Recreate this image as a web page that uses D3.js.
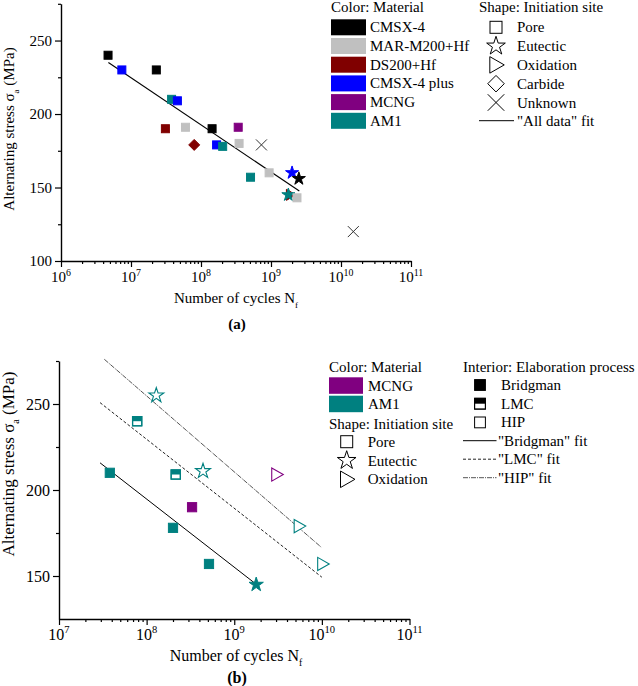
<!DOCTYPE html>
<html><head><meta charset="utf-8">
<script src="https://cdn.jsdelivr.net/npm/d3@7/dist/d3.min.js"></script>
<style>body{margin:0;background:#fff}svg{display:block}text{font-family:"Liberation Serif","Times New Roman",serif;fill:#000}</style>
</head><body>
<svg id="c" width="638" height="686"></svg>
<script>
// ---------- Data: chart (a) ----------
const materials = ["CMSX-4","MAR-M200+Hf","DS200+Hf","CMSX-4 plus","MCNG","AM1"];
const materialColors = ["#000000","#c0c0c0","#800000","#0000ff","#800080","#008080"];
const sites = ["Pore","Eutectic","Oxidation","Carbide","Unknown"];
const aCycles   = [4.7e6,7.4e6,2.3e7,3.8e7,4.6e7,3.1e7,6.0e7,8.0e7,1.44e8,1.67e8,2.04e8,3.4e8,3.5e8,7.3e8,5.1e8,9.4e8,2.0e9,2.5e9,1.9e9,1.77e9,2.35e9,1.5e10];
const aStress   = [240,230,230,210,209,190,191,179,190,179,178,191,180,179,157,160,160,156,145,145,143,120];
const aMaterial = ["CMSX-4","CMSX-4 plus","CMSX-4","AM1","CMSX-4 plus","DS200+Hf","MAR-M200+Hf","DS200+Hf","CMSX-4","CMSX-4 plus","AM1","MCNG","MAR-M200+Hf","CMSX-4","AM1","MAR-M200+Hf","CMSX-4 plus","CMSX-4","DS200+Hf","AM1","MAR-M200+Hf","CMSX-4"];
const aSite     = ["Pore","Pore","Pore","Pore","Pore","Pore","Pore","Carbide","Pore","Pore","Pore","Pore","Pore","Unknown","Pore","Pore","Eutectic","Eutectic","Oxidation","Eutectic","Pore","Unknown"];
const aFitCycles = [4.75e6, 2.54e9];
const aFitStress = [235.1, 147.6];
const aYTicks = [100,150,200,250];
const aXTickExp = [6,7,8,9,10,11];

// ---------- Data: chart (b) ----------
const bMaterials = ["MCNG","AM1"];
const bColors = ["#800080","#008080"];
const processes = ["Bridgman","LMC","HIP"];
const bCycles   = [1.29e8,7.8e7,2.15e8,4.4e8,3.05e9,3.8e7,3.3e8,2.0e8,5.5e9,5.15e8,1.78e9,1.02e10];
const bStress   = [255,240,209,211,209,210,190,178,179,157,145,157];
const bMaterial = ["AM1","AM1","AM1","AM1","MCNG","AM1","MCNG","AM1","AM1","AM1","AM1","AM1"];
const bSite     = ["Eutectic","Pore","Pore","Eutectic","Oxidation","Pore","Pore","Pore","Oxidation","Pore","Eutectic","Oxidation"];
const bProcess  = ["HIP","LMC","LMC","HIP","HIP","Bridgman","Bridgman","Bridgman","HIP","Bridgman","Bridgman","HIP"];
const bFitNames  = ["Bridgman","LMC","HIP"];
const bFitCycles = [[2.94e7,1.78e9],[2.94e7,1.0e10],[3.29e7,9.8e9]];
const bFitStress = [[215.8,145.2],[250.8,149.3],[276.0,166.8]];
const bYTicks = [150,200,250];
const bXTickExp = [7,8,9,10,11];

// ---------- helpers ----------
const svg = d3.select("#c");
const matColor = d3.scaleOrdinal(materials, materialColors);
const bMatColor = d3.scaleOrdinal(bMaterials, bColors);
const starPath = s => d3.symbol(d3.symbolStar, s)();
function triPath(r){ return `M${-r*0.75},${-r}L${r},0L${-r*0.75},${r}Z`; }
function xPath(r){ return `M${-r},${-r}L${r},${r}M${-r},${r}L${r},${-r}`; }
function diamondPath(r){ return `M0,${-r}L${r},0L0,${r}L${-r},0Z`; }

function drawMarker(g, site, x, y, opt){
  const k = opt.scale || 1;
  const sw = opt.sw || 1;
  const gg = g.append("g").attr("transform", `translate(${x},${y})`);
  if (site === "Pore") {
    const s = 8*k;
    gg.append("rect").attr("x",-s/2).attr("y",-s/2).attr("width",s).attr("height",s)
      .attr("fill",opt.fill).attr("stroke",opt.stroke).attr("stroke-width",sw);
    if (opt.half) {
      gg.append("rect").attr("x",-s/2).attr("y",-s/2).attr("width",s).attr("height",s/2)
        .attr("fill",opt.half).attr("stroke","none");
      gg.append("rect").attr("x",-s/2).attr("y",-s/2).attr("width",s).attr("height",s)
        .attr("fill","none").attr("stroke",opt.stroke).attr("stroke-width",sw);
    }
  } else if (site === "Eutectic") {
    gg.append("path").attr("d", starPath(48*k*k)).attr("fill",opt.fill).attr("stroke",opt.stroke).attr("stroke-width",sw).attr("stroke-linejoin","miter");
  } else if (site === "Oxidation") {
    gg.append("path").attr("d", triPath(5.5*k)).attr("fill",opt.fill).attr("stroke",opt.stroke).attr("stroke-width",sw);
  } else if (site === "Carbide") {
    gg.append("path").attr("d", diamondPath(5.5*k)).attr("fill",opt.fill).attr("stroke",opt.stroke).attr("stroke-width",sw);
  } else if (site === "Unknown") {
    gg.append("path").attr("d", xPath(5.5*k)).attr("fill","none").attr("stroke",opt.stroke).attr("stroke-width",sw);
  }
  return gg;
}

function superLabel(g, x, y, exp, fs){
  const t = g.append("text").attr("x",x).attr("y",y).attr("text-anchor","middle").style("font-size",fs+"px");
  t.append("tspan").text("10");
  t.append("tspan").attr("dy",-fs*0.42).style("font-size",(fs*0.66)+"px").text(exp);
  return t;
}

function drawAxes(xs, ys, yTicks, yMinor, xExps, fs){
  const g = svg.append("g");
  const [x0,x1] = xs.range(); const [yb,yt] = ys.range();
  const ya = d3.axisLeft(ys).tickValues(yTicks).tickSize(6).tickSizeOuter(0).tickFormat(d3.format("d"));
  const yg = g.append("g").attr("transform",`translate(${x0},0)`).call(ya);
  yg.selectAll("text").style("font-size",fs+"px").style("font-family","Liberation Serif").attr("x",-9);
  const ym = d3.axisLeft(ys).tickValues(yMinor).tickSize(3).tickSizeOuter(0).tickFormat("");
  const ymg = g.append("g").attr("transform",`translate(${x0},0)`).call(ym);
  ymg.select(".domain").remove();
  const majors = xExps.map(e => Math.pow(10,e));
  const minors = [];
  xExps.slice(0,-1).forEach(e => { for (let m=2;m<=9;m++) minors.push(m*Math.pow(10,e)); });
  const xa = d3.axisBottom(xs).tickValues(majors).tickSize(6).tickSizeOuter(0).tickFormat("");
  const xg = g.append("g").attr("transform",`translate(0,${yb})`).call(xa);
  const xm = d3.axisBottom(xs).tickValues(minors).tickSize(3).tickSizeOuter(0).tickFormat("");
  const xmg = g.append("g").attr("transform",`translate(0,${yb})`).call(xm);
  xmg.select(".domain").remove();
  [yg,ymg,xg,xmg].forEach(a => { a.selectAll("line").attr("stroke","#000").attr("stroke-width",1.2); a.selectAll(".domain").attr("stroke","#000").attr("stroke-width",1.4); });
  xExps.forEach(e => superLabel(g, xs(Math.pow(10,e)), yb+21, e, fs));
  return g;
}

function yTitle(x, y, fs){
  const t = svg.append("text").attr("transform",`translate(${x},${y}) rotate(-90)`).attr("text-anchor","middle").style("font-size",fs+"px");
  t.append("tspan").text("Alternating stress σ");
  t.append("tspan").attr("dy",fs*0.3).style("font-size",(fs*0.6)+"px").text("a");
  t.append("tspan").attr("dy",-fs*0.3).text(" (MPa)");
}
function xTitle(x, y, fs){
  const t = svg.append("text").attr("x",x).attr("y",y).attr("text-anchor","middle").style("font-size",fs+"px");
  t.append("tspan").text("Number of cycles N");
  t.append("tspan").attr("dy",fs*0.3).style("font-size",(fs*0.6)+"px").text("f");
}

// ================= Chart (a) =================
const xA = d3.scaleLog().domain([1e6,1e11]).range([61,411]);
const yA = d3.scaleLinear().domain([100,275]).range([261,3.8]);
drawAxes(xA, yA, aYTicks, [125,175,225,275], aXTickExp, 15);
yTitle(14, 129, 15);
xTitle(236, 303, 15);
svg.append("text").attr("x",237).attr("y",329).attr("text-anchor","middle").style("font-size","15px").style("font-weight","bold").text("(a)");

const aFit = d3.line().x(d=>xA(d[0])).y(d=>yA(d[1]));
svg.append("path").attr("d", aFit(d3.zip(aFitCycles,aFitStress))).attr("fill","none").attr("stroke","#000").attr("stroke-width",1.1);

const gA = svg.append("g");
aCycles.forEach((n,i) => {
  const site = aSite[i];
  const c = matColor(aMaterial[i]);
  if (site === "Unknown") drawMarker(gA, site, xA(n), yA(aStress[i]), {fill:"none", stroke:"#333", sw:1});
  else drawMarker(gA, site, xA(n), yA(aStress[i]), {fill:c, stroke:c, sw:1, scale: site==="Eutectic"?1.05:1});
});

// legend (a)
const lgA = svg.append("g");
lgA.append("text").attr("x",331).attr("y",12).style("font-size","15px").text("Color: Material");
materials.forEach((m,i) => {
  const yy = 19.3 + i*18.7;
  lgA.append("rect").attr("x",331).attr("y",yy).attr("width",35).attr("height",16).attr("fill",materialColors[i]);
  lgA.append("text").attr("x",370).attr("y",yy+13).style("font-size","15px").text(m);
});
lgA.append("text").attr("x",479).attr("y",12).style("font-size","15px").text("Shape: Initiation site");
sites.forEach((s,i) => {
  const yy = 27.3 + i*18.8;
  drawMarker(lgA, s, 496, yy, {fill:"none", stroke:"#000", sw:1, scale:1.5});
  lgA.append("text").attr("x",517).attr("y",yy+5).style("font-size","15px").text(s);
});
lgA.append("line").attr("x1",479).attr("x2",514).attr("y1",120.7).attr("y2",120.7).attr("stroke","#000").attr("stroke-width",1);
lgA.append("text").attr("x",517).attr("y",125.7).style("font-size","15px").text('"All data" fit');

// ================= Chart (b) =================
const xB = d3.scaleLog().domain([1e7,1e11]).range([59,409.5]);
const yB = d3.scaleLinear().domain([125,275]).range([619,361]);
drawAxes(xB, yB, bYTicks, [175,225,275], bXTickExp, 16);
yTitle(14, 464, 17);
xTitle(236, 661, 16);
svg.append("text").attr("x",237).attr("y",683).attr("text-anchor","middle").style("font-size","16px").style("font-weight","bold").text("(b)");

const fitDash = {"Bridgman":null, "LMC":"3,2", "HIP":"5,1,1,1"};
const fitStroke = {"Bridgman":"#000", "LMC":"#222", "HIP":"#555"};
const bFit = d3.line().x(d=>xB(d[0])).y(d=>yB(d[1]));
bFitNames.forEach((nm,i) => {
  svg.append("path").attr("d", bFit(d3.zip(bFitCycles[i], bFitStress[i]))).attr("fill","none")
    .attr("stroke",fitStroke[nm]).attr("stroke-width",1).attr("stroke-dasharray",fitDash[nm]);
});

const gB = svg.append("g");
bCycles.forEach((n,i) => {
  const c = bMatColor(bMaterial[i]);
  const p = bProcess[i];
  const opt = p==="Bridgman" ? {fill:c, stroke:c, sw:1, scale:1.15}
            : p==="LMC" ? {fill:"#fff", stroke:c, sw:1.2, half:c, scale:1.15}
            : {fill:"#fff", stroke:c, sw:1.1, scale:1.2};
  drawMarker(gB, bSite[i], xB(n), yB(bStress[i]), opt);
});

// legend (b)
const lgB = svg.append("g");
lgB.append("text").attr("x",329).attr("y",372).style("font-size","15px").text("Color: Material");
bMaterials.forEach((m,i) => {
  const yy = 377.3 + i*18.4;
  lgB.append("rect").attr("x",329).attr("y",yy).attr("width",34).attr("height",16.5).attr("fill",bColors[i]);
  lgB.append("text").attr("x",368).attr("y",yy+13.5).style("font-size","15px").text(m);
});
lgB.append("text").attr("x",329).attr("y",428.5).style("font-size","15px").text("Shape: Initiation site");
["Pore","Eutectic","Oxidation"].forEach((s,i) => {
  const yy = 441.7 + i*18.8;
  drawMarker(lgB, s, 346.7, yy, {fill:"none", stroke:"#000", sw:1, scale:1.5});
  lgB.append("text").attr("x",367.7).attr("y",yy+5).style("font-size","15px").text(s);
});
lgB.append("text").attr("x",463).attr("y",372).style("font-size","15px").text("Interior: Elaboration process");
processes.forEach((p,i) => {
  const yy = 385 + i*18.7;
  const opt = p==="Bridgman" ? {fill:"#000", stroke:"#000", sw:1, scale:1.35}
            : p==="LMC" ? {fill:"#fff", stroke:"#000", sw:1, half:"#000", scale:1.35}
            : {fill:"#fff", stroke:"#000", sw:1, scale:1.35};
  drawMarker(lgB, "Pore", 480, yy, opt);
  lgB.append("text").attr("x",501).attr("y",yy+5).style("font-size","15px").text(p);
});
bFitNames.forEach((nm,i) => {
  const yy = 440.7 + i*18.5;
  lgB.append("line").attr("x1",463).attr("x2",496.5).attr("y1",yy).attr("y2",yy)
    .attr("stroke",fitStroke[nm]).attr("stroke-width",1).attr("stroke-dasharray",fitDash[nm]);
  lgB.append("text").attr("x",498).attr("y",yy+5).style("font-size","15px").text('"'+nm+'" fit');
});
</script>
</body></html>
